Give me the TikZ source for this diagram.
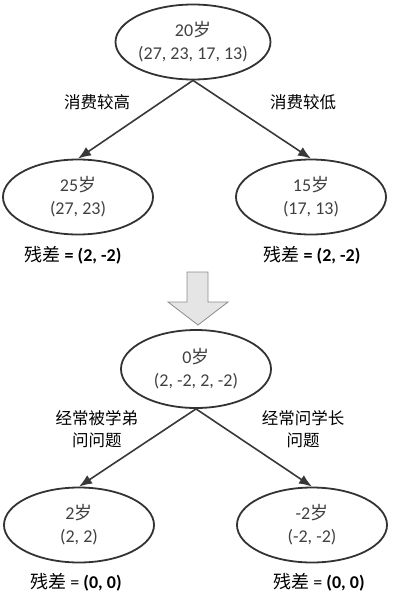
\documentclass[tikz,border=0pt]{standalone}
\usepackage{fontspec}
\setmainfont{Carlito}
\newfontfamily\cjk{Noto Sans CJK SC}
\usepackage{tikz}
\usetikzlibrary{shapes.geometric,arrows.meta}
\tikzset{
  font={\fontsize{18pt}{23pt}\selectfont}}
\begin{document}
\begin{tikzpicture}[x=1pt,y=-1pt]
\tikzstyle{every node}+=[inner sep=0pt]
\tikzstyle{age}=[draw=black!80,line width=1.8pt,ellipse,minimum width=150pt,minimum height=75pt,align=center,text=black!75]
\tikzstyle{split}=[align=center,font={\cjk\fontsize{16.5pt}{22pt}\selectfont}]
\tikzstyle{edge}=[draw=black!78,line width=1.6pt,-{Latex[length=13pt,width=10pt]}]
\useasboundingbox (0,0) rectangle (418,614);
% first tree
\node [age] (n20) at (193,42) {20{\cjk 岁}\\(27, 23, 17, 13)};
\node [age] (n25) at (78,197) {25{\cjk 岁}\\(27, 23)};
\node [age] (n15) at (311,197) {15{\cjk 岁}\\(17, 13)};
\draw [edge] (n20.south) -- (n25.north);
\draw [edge] (n20.south) -- (n15.north);
\node [split] (hi) at (97,102) {消费较高};
\node [split] (lo) at (303,102) {消费较低};
\node (r25) at (73,255) {{\cjk 残差} \textbf{= (2, -2)}};
\node (r15) at (312,255) {{\cjk 残差} \textbf{= (2, -2)}};
% big arrow
\draw [draw=black!45,fill=black!10,line width=0.8pt] (187,272) -- (208,272) -- (208,302) -- (228,302)
  -- (198,325) -- (168,302) -- (187,302) -- cycle;
% second tree
\node [age,minimum height=78pt] (n0) at (196,369) {0{\cjk 岁}\\(2, -2, 2, -2)};
\node [age] (n2) at (79,525) {2{\cjk 岁}\\(2, 2)};
\node [age] (nm2) at (312,525) {-2{\cjk 岁}\\(-2, -2)};
\draw [edge] (n0.south) -- (n2.north);
\draw [edge] (n0.south) -- (nm2.north);
\node [split] (asked) at (97,429) {经常被学弟\\问问题};
\node [split] (asks) at (303,429) {经常问学长\\问题};
\node (r2) at (76,582) {{\cjk 残差} = \textbf{(0, 0)}};
\node (rm2) at (319,582) {{\cjk 残差} = \textbf{(0, 0)}};
\end{tikzpicture}
\end{document}
